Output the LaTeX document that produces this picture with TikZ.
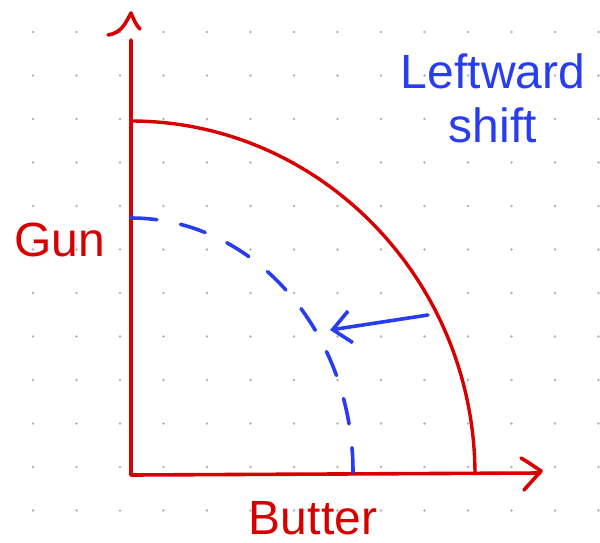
\documentclass[tikz,border=0pt]{standalone}
\usepackage{fontspec}
\setmainfont{Liberation Sans}
\usetikzlibrary{arrows.meta}
\definecolor{ppfred}{RGB}{214,0,0}
\definecolor{shiftblue}{RGB}{40,60,240}
\begin{document}
\begin{tikzpicture}[x=0.5pt,y=-0.5pt,
  axisline/.style={ppfred, line width=1.8pt, line cap=round, line join=round},
  oldppf/.style={ppfred, line width=1.7pt},
  newppf/.style={shiftblue, line width=1.8pt, line cap=round, dash pattern=on 13pt off 12pt},
  handlabel/.style={font=\fontsize{24}{27}\selectfont, inner sep=0pt}]

\useasboundingbox (0,0) rectangle (600,542);

% Dot grid
\foreach \i in {0,...,13}
  \foreach \j in {0,...,11}
    \fill[gray!60] (33+43.5*\i,32+43.5*\j) circle (1.4);

% Axes
\coordinate (O) at (131,475);
\coordinate (ytop) at (131,40);
\coordinate (xend) at (540,473);
\draw[axisline] (ytop) -- (O) -- (xend);
\draw[axisline] (108,35) .. controls (122,33) and (126,22) .. (131,13) .. controls (134,20) and (136,25) .. (140,29);
\draw[axisline] (521,458) .. controls (528,462) and (535,467) .. (541,471) -- (524,490);

% Original PPF
\coordinate (g1) at (131,121);
\coordinate (b1) at (475,475);
\draw[oldppf] (g1) .. controls (320,121) and (475,280) .. (b1);

% Shifted PPF
\coordinate (g2) at (131,218);
\coordinate (b2) at (353,472);
\draw[newppf] (g2) .. controls (254,218) and (353,332) .. (b2);

% Shift arrow
\coordinate (from) at (428,315);
\coordinate (to) at (330,330);
\draw[shiftblue, line width=1.8pt, line cap=round,
  -{Straight Barb[length=9pt, width=16pt, line width=1.8pt]}] (from) -- (to);

% Labels
\node[handlabel, text=ppfred] (guns) at (60,240) {Gun};
\node[handlabel, text=ppfred] (butter) at (313,518) {Butter};
\node[handlabel, text=shiftblue, align=center] (shift) at (493,98) {Leftward\\shift};

\end{tikzpicture}
\end{document}
